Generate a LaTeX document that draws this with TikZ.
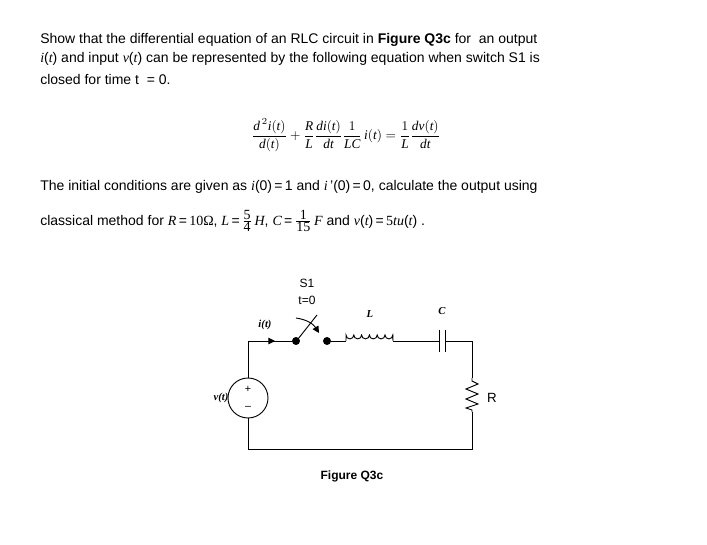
\documentclass[tikz,border=0pt]{standalone}
\usepackage{fontspec}
\setmainfont{Liberation Sans}
\newfontfamily\mf{Liberation Serif}
\usetikzlibrary{arrows.meta}
\newcommand{\mi}[1]{{\mf\itshape #1}}
\begin{document}
\begin{tikzpicture}[x=0.75pt,y=-0.75pt,
  txt/.style={anchor=west,inner sep=0,font=\fontsize{10.5}{12}\selectfont},
  lbl/.style={inner sep=0,font=\fontsize{9}{10}\selectfont},
  wire/.style={line width=0.7pt},
  dot/.style={circle,fill=black,inner sep=0,minimum size=6pt}]
\useasboundingbox (0,0) rectangle (707,545);
\node[txt] (l1) at (40,40) {Show that the differential equation of an RLC circuit in \textbf{Figure Q3c} for~~an output};
\node[txt] (l2) at (40,59) {\mi{i}(\mi{t}) and input \mi{v}(\mi{t}) can be represented by the following equation when switch S1 is};
\node[txt] (l3) at (40,79) {closed for time t~~= 0.};
\node[inner sep=0,font=\mf\fontsize{10}{11}\selectfont] (eq) at (346,135) {$\displaystyle \frac{\textit{d}^{\,2}\textit{i}(\textit{t})}{\textit{d}(\textit{t})}+\frac{\textit{R}}{\textit{L}}\frac{\textit{di}(\textit{t})}{\textit{dt}}\frac{1}{\textit{LC}}\,\textit{i}(\textit{t})=\frac{1}{\textit{L}}\frac{\textit{dv}(\textit{t})}{\textit{dt}}$};
\node[txt] (l4) at (40,187) {The initial conditions are given as \mi{i}(0)\,=\,1 and \mi{i}\,'(0)\,=\,0, calculate the output using};
\node[txt] (l5) at (40,221) {classical method for \mi{R}\,=\,{\mf 10Ω}, \mi{L}\,=\,$\frac{\mbox{\mf 5}}{\mbox{\mf 4}}$\,\mi{H}, \mi{C}\,=\,$\frac{\mbox{\mf 1}}{\mbox{\mf 15}}$\,\mi{F} and \mi{v}(\mi{t})\,=\,{\mf 5}\mi{tu}(\mi{t}) .};
% circuit
\coordinate (tl) at (248,341); \coordinate (bl) at (248,449);
\coordinate (tr) at (472,341); \coordinate (br) at (472,449);
\node[dot] (s1) at (296,341) {}; \node[dot] (s2) at (327,341) {};
\coordinate (la) at (346,341); \coordinate (la2) at (346,335); \coordinate (lb) at (393,341);
\coordinate (ca) at (439,341); \coordinate (cb) at (445,341);
\coordinate (ra) at (472,378); \coordinate (rb) at (472,412);
\node[circle,draw,wire,minimum size=30pt,inner sep=0] (src) at (248,398) {};
\node[font=\fontsize{8}{8}\selectfont,inner sep=0] at (248,389) {+};
\node[font=\fontsize{8}{8}\selectfont,inner sep=0] at (248,408) {--};
\draw[wire] (src.north) -- (tl) -- (s1);
\draw[wire,-{Triangle[length=5pt,width=5pt]}] (tl) -- (275,341);
\draw[wire] (s2) -- (la);
\draw[wire] (la) -- (la2) arc[start angle=180,end angle=0,radius=3.9] arc[start angle=180,end angle=0,radius=3.9] arc[start angle=180,end angle=0,radius=3.9] arc[start angle=180,end angle=0,radius=3.9] arc[start angle=180,end angle=0,radius=3.9] arc[start angle=180,end angle=0,radius=3.9] -- (lb);
\draw[wire] (lb) -- (ca) (cb) -- (tr) -- (ra);
\draw[wire] (439,330) -- (439,352) (445,330) -- (445,352);
\draw[wire] (ra) -- (472,381) -- (478,384) -- (466,389) -- (478,394) -- (466,399) -- (478,404) -- (466,408) -- (472,410) -- (rb);
\draw[wire] (rb) -- (br) -- (bl) -- (src.south);
\draw[wire] (298,339) -- (317,315);
\draw[wire,-{Triangle[length=5pt,width=5pt]}] (296,318) to[bend left=25] (319,333);
\node[lbl] (S1) at (307,283) {S1};
\node[lbl] (t0) at (307,300) {t=0};
\node[lbl,font=\mf\bfseries\itshape\fontsize{8}{9}\selectfont] (il) at (265,325) {i(t)};
\node[lbl,font=\mf\bfseries\itshape\fontsize{8}{9}\selectfont] (Ll) at (370,314) {L};
\node[lbl,font=\mf\bfseries\itshape\fontsize{8}{9}\selectfont] (Cl) at (442,311) {C};
\node[lbl,font=\fontsize{10}{11}\selectfont] (Rl) at (492,398) {R};
\node[lbl,font=\mf\bfseries\itshape\fontsize{8}{9}\selectfont] (vl) at (221,398) {v(t)};
\node[lbl,font=\bfseries\fontsize{9}{10}\selectfont] (fig) at (352,476) {Figure Q3c};
\end{tikzpicture}
\end{document}
